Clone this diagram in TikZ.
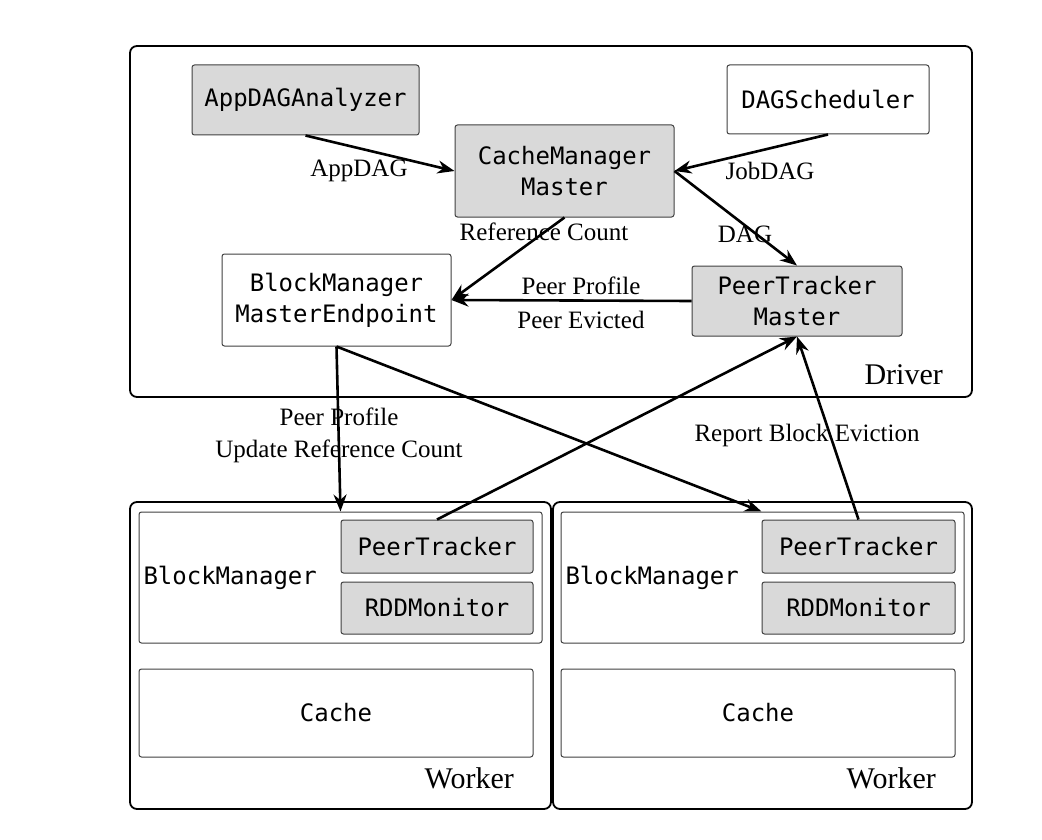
\documentclass[tikz,border=0pt]{standalone}
\usepackage{fontspec}
\setmainfont{Liberation Serif}
\setmonofont{DejaVu Sans Mono}
\usetikzlibrary{arrows.meta,calc}
\definecolor{boxgray}{HTML}{D9D9D9}
\definecolor{edgegray}{HTML}{404040}
\tikzset{
  outer/.style={draw=black, line width=1.8pt, rounded corners=7pt, inner sep=0pt},
  comp/.style={draw=edgegray, line width=1pt, rounded corners=2.5pt, inner sep=0pt, align=center, font=\fontsize{24}{31}\ttfamily},
  grayc/.style={comp, fill=boxgray},
  whitec/.style={comp, fill=white},
  lbl/.style={font=\fontsize{25}{32}\selectfont, inner sep=0pt, align=center},
  big/.style={font=\fontsize{30}{36}\selectfont, inner sep=0pt},
  arr/.style={line width=2.6pt, -{Stealth[length=17pt,width=13pt]}}
}
\begin{document}
\begin{tikzpicture}[x=1pt,y=-1pt]
\useasboundingbox (0,0) rectangle (1042,840);
% containers
\node[outer, minimum width=842pt, minimum height=351pt] (driver) at (551,221.5) {};
\node[outer, minimum width=421pt, minimum height=307pt] (w1) at (340.5,655.5) {};
\node[outer, minimum width=419pt, minimum height=307pt] (w2) at (762.5,655.5) {};
% driver components
\node[grayc, minimum width=227pt, minimum height=70pt] (app) at (305.5,100) {AppDAGAnalyzer};
\node[whitec, minimum width=202pt, minimum height=69pt] (sched) at (828,99.5) {DAGScheduler};
\node[grayc, minimum width=219pt, minimum height=92pt] (cmm) at (564.5,171) {CacheManager\\Master};
\node[whitec, minimum width=229pt, minimum height=92pt] (bme) at (336.5,300) {BlockManager\\MasterEndpoint};
\node[grayc, minimum width=210pt, minimum height=70pt] (ptm) at (797,301) {PeerTracker\\Master};
\node[big, anchor=base east] (drvlbl) at (943,384) {Driver};
% worker 1
\node[whitec, minimum width=403pt, minimum height=131pt] (bm1) at (340.5,577.5) {};
\node[comp, draw=none, anchor=west] (bm1lbl) at (143,578) {BlockManager};
\node[grayc, minimum width=192pt, minimum height=53pt] (pt1) at (437,546.5) {PeerTracker};
\node[grayc, minimum width=192pt, minimum height=52pt] (rdd1) at (437,608) {RDDMonitor};
\node[whitec, minimum width=394pt, minimum height=88pt] (cache1) at (336,713) {Cache};
\node[big, anchor=base east] (w1lbl) at (514,788) {Worker};
% worker 2
\node[whitec, minimum width=403pt, minimum height=131pt] (bm2) at (762.5,577.5) {};
\node[comp, draw=none, anchor=west] (bm2lbl) at (565,578) {BlockManager};
\node[grayc, minimum width=193pt, minimum height=53pt] (pt2) at (858.5,546.5) {PeerTracker};
\node[grayc, minimum width=193pt, minimum height=52pt] (rdd2) at (858.5,608) {RDDMonitor};
\node[whitec, minimum width=394pt, minimum height=88pt] (cache2) at (758,713) {Cache};
\node[big, anchor=base east] (w2lbl) at (936,788) {Worker};
% labels
\node[lbl] (l1) at (359,171) {AppDAG};
\node[lbl] (l2) at (770,171) {JobDAG};
\node[lbl] (l3) at (745,234) {DAG};
\node[lbl] (l4) at (544,232) {Reference Count};
\node[lbl] (l5) at (581,286) {Peer Profile};
\node[lbl] (l6) at (581,320) {Peer Evicted};
\node[lbl] (l7) at (339,435) {Peer Profile\\Update Reference Count};
\node[lbl] (l8) at (807,435) {Report Block Eviction};
% arrows
\coordinate (bm2in) at (pt2.north west |- bm2.north);
\draw[arr] (app.south) -- (cmm.west);
\draw[arr] (sched.south) -- (cmm.east);
\draw[arr] (cmm.east) -- (ptm.north);
\draw[arr] (cmm.south) -- (bme.east);
\draw[arr] (ptm.west) -- (bme.east);
\draw[arr] (bme.south) -- (bm1.north);
\draw[arr] (bme.south) -- (bm2in);
\draw[arr] (pt1.north) -- (ptm.south);
\draw[arr] (pt2.north) -- (ptm.south);
\end{tikzpicture}
\end{document}
